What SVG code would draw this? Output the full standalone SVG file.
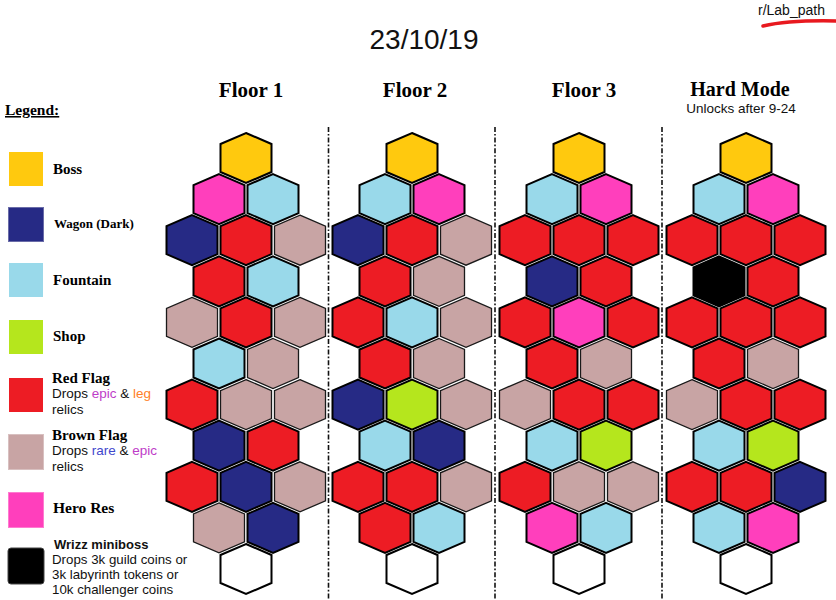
<svg xmlns="http://www.w3.org/2000/svg" xmlns:xlink="http://www.w3.org/1999/xlink" width="836" height="600" viewBox="0 0 836 600">
<style>
.hx{stroke:#000;stroke-width:2;stroke-linejoin:miter}
.bo{fill:#FFC90E}
.wa{fill:#262A85}
.fo{fill:#99D9EA}
.sh{fill:#B5E61D}
.rf{fill:#ED1C24}
.bf{fill:#C8A4A4;stroke:#1a1a1a;stroke-width:1.3}
.hr{fill:#FF3FBC}
.wz{fill:#000}
.em{fill:#fff}
.sep{stroke:#111;stroke-width:1.6;stroke-dasharray:5 2 1.6 2;fill:none}
.ser{font-family:"Liberation Serif","DejaVu Serif",serif;font-weight:bold;fill:#000}
.sans{font-family:"Liberation Sans",Arial,sans-serif;fill:#111}
.epic{fill:#BE3CC8}
.leg{fill:#FF7F27}
.rare{fill:#3F48CC}
</style>
<defs>
<polygon id="hex" points="0,-25 25.5,-14 25.5,14 0,25 -25.5,14 -25.5,-14"/>
</defs>
<rect width="836" height="600" fill="#fff"/>

<g id="header">
<text x="424" y="49" text-anchor="middle" class="sans" font-size="28" fill="#000">23/10/19</text>
<text x="758" y="15" class="sans" font-size="14">r/Lab_path</text>
<path d="M763,26 Q790,20 836,21" stroke="#E8191F" stroke-width="3.5" fill="none" stroke-linecap="round"/>
<text x="251" y="97" text-anchor="middle" class="ser" font-size="21">Floor 1</text>
<text x="415" y="97" text-anchor="middle" class="ser" font-size="21">Floor 2</text>
<text x="584" y="97" text-anchor="middle" class="ser" font-size="21">Floor 3</text>
<text x="740" y="96" text-anchor="middle" class="ser" font-size="20">Hard Mode</text>
<text x="741" y="113" text-anchor="middle" class="sans" font-size="13.5">Unlocks after 9-24</text>
</g>

<g id="separators">
<line class="sep" x1="328.5" y1="127" x2="328.5" y2="600"/>
<line class="sep" x1="495" y1="127" x2="495" y2="600"/>
<line class="sep" x1="662" y1="127" x2="662" y2="600"/>
</g>

<g id="legend">
<text x="5" y="115" class="ser" font-size="15.5" text-decoration="underline">Legend:</text>
<g id="leg-boss"><rect x="9" y="152" width="34" height="34" class="bo"/><text x="53" y="174" class="ser" font-size="15">Boss</text></g>
<g id="leg-wagon"><rect x="8.5" y="207.5" width="35" height="34" class="wa" stroke="#6a6ca8" stroke-width="1"/><text x="54" y="228" class="ser" font-size="13">Wagon (Dark)</text></g>
<g id="leg-fountain"><rect x="9" y="263" width="34" height="34" class="fo"/><text x="53" y="285" class="ser" font-size="15">Fountain</text></g>
<g id="leg-shop"><rect x="9" y="320" width="34" height="34" class="sh"/><text x="53" y="341" class="ser" font-size="15">Shop</text></g>
<g id="leg-red"><rect x="9" y="378" width="34" height="34" class="rf"/>
<text x="52" y="383" class="ser" font-size="15">Red Flag</text>
<text x="52" y="398" class="sans" font-size="13.5">Drops <tspan class="epic">epic</tspan> &amp; <tspan class="leg">leg</tspan></text>
<text x="52" y="413.5" class="sans" font-size="13.5">relics</text></g>
<g id="leg-brown"><rect x="8.5" y="434.5" width="35" height="35" fill="#C8A4A4" stroke="#d8c0c0" stroke-width="1"/>
<text x="52" y="440" class="ser" font-size="15">Brown Flag</text>
<text x="52" y="455" class="sans" font-size="13.5">Drops <tspan class="rare">rare</tspan> &amp; <tspan class="epic">epic</tspan></text>
<text x="52" y="470.5" class="sans" font-size="13.5">relics</text></g>
<g id="leg-hero"><rect x="8.5" y="492.5" width="35" height="35" class="hr" stroke="#ff7ad0" stroke-width="1"/><text x="53" y="513" class="ser" font-size="15.5">Hero Res</text></g>
<g id="leg-wrizz"><rect x="8" y="548" width="36" height="36" rx="3" fill="#000" stroke="#444" stroke-width="1"/>
<text x="54" y="549" class="sans" font-size="13" font-weight="bold" fill="#000">Wrizz miniboss</text>
<text x="52" y="564" class="sans" font-size="13.3">Drops 3k guild coins or</text>
<text x="52" y="579" class="sans" font-size="13.3">3k labyrinth tokens or</text>
<text x="52" y="594" class="sans" font-size="13.3">10k challenger coins</text></g>
</g>

<g id="floor1">
<use id="f1-r0-0" href="#hex" x="246" y="158" class="hx bo"/>
<use id="f1-r1-0" href="#hex" x="219" y="199.1" class="hx hr"/>
<use id="f1-r1-1" href="#hex" x="273" y="199.1" class="hx fo"/>
<use id="f1-r2-0" href="#hex" x="192" y="240.2" class="hx wa"/>
<use id="f1-r2-1" href="#hex" x="246" y="240.2" class="hx rf"/>
<use id="f1-r2-2" href="#hex" x="300" y="240.2" class="hx bf"/>
<use id="f1-r3-0" href="#hex" x="219" y="281.3" class="hx rf"/>
<use id="f1-r3-1" href="#hex" x="273" y="281.3" class="hx fo"/>
<use id="f1-r4-0" href="#hex" x="192" y="322.4" class="hx bf"/>
<use id="f1-r4-1" href="#hex" x="246" y="322.4" class="hx rf"/>
<use id="f1-r4-2" href="#hex" x="300" y="322.4" class="hx bf"/>
<use id="f1-r5-0" href="#hex" x="219" y="363.5" class="hx fo"/>
<use id="f1-r5-1" href="#hex" x="273" y="363.5" class="hx bf"/>
<use id="f1-r6-0" href="#hex" x="192" y="404.6" class="hx rf"/>
<use id="f1-r6-1" href="#hex" x="246" y="404.6" class="hx bf"/>
<use id="f1-r6-2" href="#hex" x="300" y="404.6" class="hx bf"/>
<use id="f1-r7-0" href="#hex" x="219" y="445.7" class="hx wa"/>
<use id="f1-r7-1" href="#hex" x="273" y="445.7" class="hx rf"/>
<use id="f1-r8-0" href="#hex" x="192" y="486.8" class="hx rf"/>
<use id="f1-r8-1" href="#hex" x="246" y="486.8" class="hx wa"/>
<use id="f1-r8-2" href="#hex" x="300" y="486.8" class="hx bf"/>
<use id="f1-r9-0" href="#hex" x="219" y="527.9" class="hx bf"/>
<use id="f1-r9-1" href="#hex" x="273" y="527.9" class="hx wa"/>
<use id="f1-r10-0" href="#hex" x="246" y="569" class="hx em"/>
</g>

<g id="floor2">
<use id="f2-r0-0" href="#hex" x="412" y="158" class="hx bo"/>
<use id="f2-r1-0" href="#hex" x="385" y="199.1" class="hx fo"/>
<use id="f2-r1-1" href="#hex" x="439" y="199.1" class="hx hr"/>
<use id="f2-r2-0" href="#hex" x="358" y="240.2" class="hx wa"/>
<use id="f2-r2-1" href="#hex" x="412" y="240.2" class="hx rf"/>
<use id="f2-r2-2" href="#hex" x="466" y="240.2" class="hx bf"/>
<use id="f2-r3-0" href="#hex" x="385" y="281.3" class="hx rf"/>
<use id="f2-r3-1" href="#hex" x="439" y="281.3" class="hx bf"/>
<use id="f2-r4-0" href="#hex" x="358" y="322.4" class="hx rf"/>
<use id="f2-r4-1" href="#hex" x="412" y="322.4" class="hx fo"/>
<use id="f2-r4-2" href="#hex" x="466" y="322.4" class="hx bf"/>
<use id="f2-r5-0" href="#hex" x="385" y="363.5" class="hx rf"/>
<use id="f2-r5-1" href="#hex" x="439" y="363.5" class="hx bf"/>
<use id="f2-r6-0" href="#hex" x="358" y="404.6" class="hx wa"/>
<use id="f2-r6-1" href="#hex" x="412" y="404.6" class="hx sh"/>
<use id="f2-r6-2" href="#hex" x="466" y="404.6" class="hx bf"/>
<use id="f2-r7-0" href="#hex" x="385" y="445.7" class="hx fo"/>
<use id="f2-r7-1" href="#hex" x="439" y="445.7" class="hx wa"/>
<use id="f2-r8-0" href="#hex" x="358" y="486.8" class="hx rf"/>
<use id="f2-r8-1" href="#hex" x="412" y="486.8" class="hx rf"/>
<use id="f2-r8-2" href="#hex" x="466" y="486.8" class="hx bf"/>
<use id="f2-r9-0" href="#hex" x="385" y="527.9" class="hx rf"/>
<use id="f2-r9-1" href="#hex" x="439" y="527.9" class="hx fo"/>
<use id="f2-r10-0" href="#hex" x="412" y="569" class="hx em"/>
</g>

<g id="floor3">
<use id="f3-r0-0" href="#hex" x="579" y="158" class="hx bo"/>
<use id="f3-r1-0" href="#hex" x="552" y="199.1" class="hx fo"/>
<use id="f3-r1-1" href="#hex" x="606" y="199.1" class="hx hr"/>
<use id="f3-r2-0" href="#hex" x="525" y="240.2" class="hx rf"/>
<use id="f3-r2-1" href="#hex" x="579" y="240.2" class="hx rf"/>
<use id="f3-r2-2" href="#hex" x="633" y="240.2" class="hx rf"/>
<use id="f3-r3-0" href="#hex" x="552" y="281.3" class="hx wa"/>
<use id="f3-r3-1" href="#hex" x="606" y="281.3" class="hx rf"/>
<use id="f3-r4-0" href="#hex" x="525" y="322.4" class="hx rf"/>
<use id="f3-r4-1" href="#hex" x="579" y="322.4" class="hx hr"/>
<use id="f3-r4-2" href="#hex" x="633" y="322.4" class="hx rf"/>
<use id="f3-r5-0" href="#hex" x="552" y="363.5" class="hx rf"/>
<use id="f3-r5-1" href="#hex" x="606" y="363.5" class="hx bf"/>
<use id="f3-r6-0" href="#hex" x="525" y="404.6" class="hx bf"/>
<use id="f3-r6-1" href="#hex" x="579" y="404.6" class="hx rf"/>
<use id="f3-r6-2" href="#hex" x="633" y="404.6" class="hx rf"/>
<use id="f3-r7-0" href="#hex" x="552" y="445.7" class="hx fo"/>
<use id="f3-r7-1" href="#hex" x="606" y="445.7" class="hx sh"/>
<use id="f3-r8-0" href="#hex" x="525" y="486.8" class="hx rf"/>
<use id="f3-r8-1" href="#hex" x="579" y="486.8" class="hx bf"/>
<use id="f3-r8-2" href="#hex" x="633" y="486.8" class="hx bf"/>
<use id="f3-r9-0" href="#hex" x="552" y="527.9" class="hx hr"/>
<use id="f3-r9-1" href="#hex" x="606" y="527.9" class="hx fo"/>
<use id="f3-r10-0" href="#hex" x="579" y="569" class="hx em"/>
</g>

<g id="hardmode">
<use id="hm-r0-0" href="#hex" x="746" y="158" class="hx bo"/>
<use id="hm-r1-0" href="#hex" x="719" y="199.1" class="hx fo"/>
<use id="hm-r1-1" href="#hex" x="773" y="199.1" class="hx hr"/>
<use id="hm-r2-0" href="#hex" x="692" y="240.2" class="hx rf"/>
<use id="hm-r2-1" href="#hex" x="746" y="240.2" class="hx rf"/>
<use id="hm-r2-2" href="#hex" x="800" y="240.2" class="hx rf"/>
<use id="hm-r3-0" href="#hex" x="719" y="281.3" class="hx wz"/>
<use id="hm-r3-1" href="#hex" x="773" y="281.3" class="hx rf"/>
<use id="hm-r4-0" href="#hex" x="692" y="322.4" class="hx rf"/>
<use id="hm-r4-1" href="#hex" x="746" y="322.4" class="hx rf"/>
<use id="hm-r4-2" href="#hex" x="800" y="322.4" class="hx rf"/>
<use id="hm-r5-0" href="#hex" x="719" y="363.5" class="hx rf"/>
<use id="hm-r5-1" href="#hex" x="773" y="363.5" class="hx bf"/>
<use id="hm-r6-0" href="#hex" x="692" y="404.6" class="hx bf"/>
<use id="hm-r6-1" href="#hex" x="746" y="404.6" class="hx rf"/>
<use id="hm-r6-2" href="#hex" x="800" y="404.6" class="hx rf"/>
<use id="hm-r7-0" href="#hex" x="719" y="445.7" class="hx fo"/>
<use id="hm-r7-1" href="#hex" x="773" y="445.7" class="hx sh"/>
<use id="hm-r8-0" href="#hex" x="692" y="486.8" class="hx rf"/>
<use id="hm-r8-1" href="#hex" x="746" y="486.8" class="hx rf"/>
<use id="hm-r8-2" href="#hex" x="800" y="486.8" class="hx wa"/>
<use id="hm-r9-0" href="#hex" x="719" y="527.9" class="hx fo"/>
<use id="hm-r9-1" href="#hex" x="773" y="527.9" class="hx hr"/>
<use id="hm-r10-0" href="#hex" x="746" y="569" class="hx em"/>
</g>
</svg>
